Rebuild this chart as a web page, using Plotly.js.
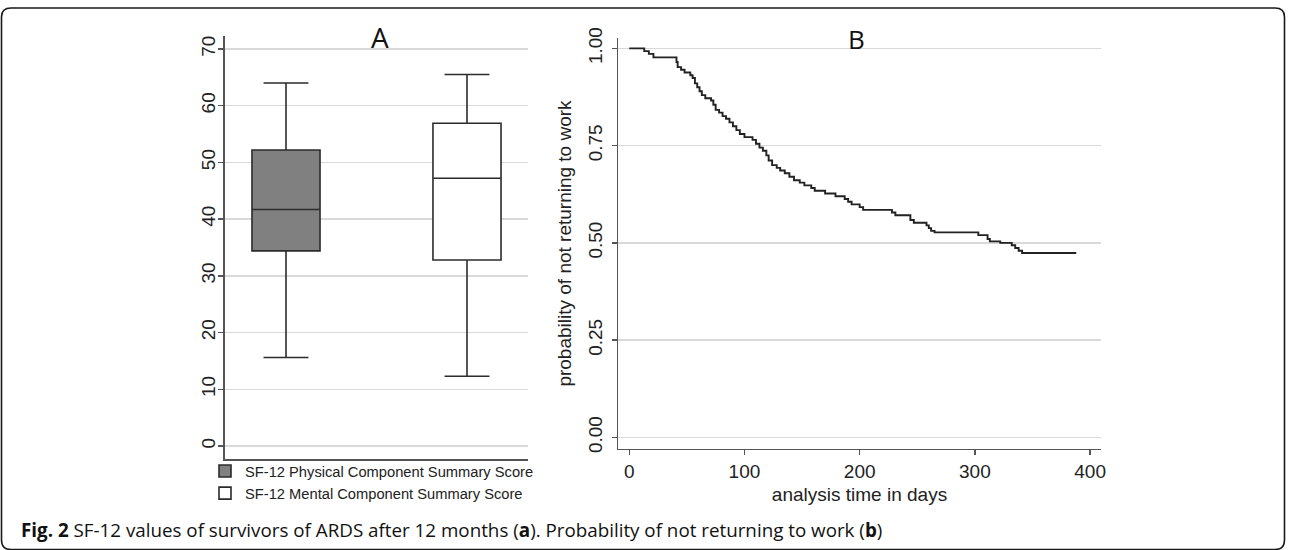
<!DOCTYPE html>
<html>
<head>
<meta charset="utf-8">
<script src="https://cdn.plot.ly/plotly-3.0.1.min.js"></script>
<style>html,body{margin:0;padding:0;background:#fff;}#chart{width:1292px;height:550px;}</style>
</head>
<body>
<div id="chart"></div>
<script>
// ---- Panel A: SF-12 box plot summary statistics ----
const groupNames = ["SF-12 Physical Component Summary Score", "SF-12 Mental Component Summary Score"];
const groupPos = [0, 1];
const lowerWhisker = [15.6, 12.3];
const q1Values = [34.4, 32.8];
const medianValues = [41.7, 47.2];
const q3Values = [52.2, 56.9];
const upperWhisker = [64.0, 65.5];
const yTicksA = [0, 10, 20, 30, 40, 50, 60, 70];

// ---- Panel B: Kaplan-Meier curve (probability of not returning to work) ----
const kmDays = [0, 13, 17, 21, 41, 42, 45, 48, 53, 55, 57, 59, 61, 63, 66, 71, 73, 75, 78, 81, 84, 87, 90, 93, 96, 100,
  107, 110, 113, 116, 119, 121, 124, 128, 131, 135, 139, 143, 148, 152, 158, 161, 170, 179, 187, 190, 193, 200, 203,
  228, 231, 244, 247, 258, 260, 262, 265, 303, 311, 313, 322, 332, 335, 338, 341, 388];
const kmSurv = [1.000, 0.993, 0.986, 0.977, 0.965, 0.952, 0.945, 0.938, 0.931, 0.924, 0.910, 0.900, 0.890, 0.880, 0.872, 0.866, 0.855, 0.842, 0.835, 0.826, 0.819, 0.810, 0.800, 0.790, 0.780, 0.772,
  0.765, 0.755, 0.745, 0.737, 0.725, 0.712, 0.700, 0.693, 0.686, 0.679, 0.670, 0.661, 0.655, 0.648, 0.641, 0.634, 0.627, 0.620, 0.613, 0.606, 0.599, 0.592, 0.585,
  0.578, 0.571, 0.559, 0.552, 0.545, 0.538, 0.531, 0.527, 0.520, 0.510, 0.504, 0.500, 0.494, 0.487, 0.480, 0.474, 0.474];
const xTicksB = [0, 100, 200, 300, 400];
const yTicksB = [0, 0.25, 0.5, 0.75, 1];

const W = 1292, H = 550;
const px = x => x / W;
const py = y => 1 - y / H;

const FONT = "Liberation Sans, Arial, sans-serif";
const boxFills = ["#808080", "#ffffff"];

const traces = [];
for (let i = 0; i < groupNames.length; i++) {
  traces.push({
    type: "box",
    name: groupNames[i],
    x: [groupPos[i]],
    q1: [q1Values[i]],
    median: [medianValues[i]],
    q3: [q3Values[i]],
    lowerfence: [lowerWhisker[i]],
    upperfence: [upperWhisker[i]],
    boxpoints: false,
    width: 0.376,
    whiskerwidth: 0.66,
    fillcolor: boxFills[i],
    line: {color: "#2b2b2b", width: 1.6},
    xaxis: "x", yaxis: "y",
    hoverinfo: "y",
    showlegend: true
  });
}
traces.push({
  type: "scatter",
  mode: "lines",
  x: kmDays,
  y: kmSurv,
  line: {shape: "hv", color: "#222222", width: 1.9},
  xaxis: "x2", yaxis: "y2",
  showlegend: false,
  name: "KM"
});

const axisLine = "#555555";
const gridCol = "#d9d9d9";
const TICKSIZE = 19;

const layout = {
  width: W, height: H,
  margin: {l: 0, r: 0, t: 0, b: 0},
  paper_bgcolor: "#ffffff",
  plot_bgcolor: "#ffffff",
  font: {family: FONT, color: "#222222", size: 17},
  showlegend: true,
  legend: {
    x: px(205), y: py(455), xanchor: "left", yanchor: "top",
    font: {family: FONT, size: 14.7, color: "#222222"},
    bgcolor: "rgba(0,0,0,0)", borderwidth: 0,
    tracegroupgap: 0, itemwidth: 30
  },
  xaxis: {
    domain: [px(225), px(528)],
    range: [-0.337, 1.337],
    showticklabels: false, ticks: "", showgrid: false, zeroline: false,
    showline: true, linecolor: axisLine, linewidth: 1.6,
    anchor: "y"
  },
  yaxis: {
    domain: [py(459.3), py(36)],
    range: [-2.35, 72.29],
    tickvals: yTicksA,
    tickangle: -90,
    ticks: "outside", ticklen: 5, tickwidth: 1.4, tickcolor: axisLine,
    ticklabelstandoff: -4,
    tickfont: {family: FONT, size: TICKSIZE, color: "#222222"},
    showgrid: true, gridcolor: gridCol, gridwidth: 1.4,
    zeroline: false,
    showline: true, linecolor: axisLine, linewidth: 1.6,
    anchor: "x"
  },
  xaxis2: {
    domain: [px(618.3), px(1100.7)],
    range: [-9.5, 409.2],
    tickvals: xTicksB,
    ticks: "outside", ticklen: 5, tickwidth: 1.4, tickcolor: axisLine,
    tickfont: {family: FONT, size: TICKSIZE, color: "#222222"},
    showgrid: false, zeroline: false,
    showline: true, linecolor: axisLine, linewidth: 1.6,
    title: {text: "analysis time in days", font: {family: FONT, size: 19, color: "#222222"}, standoff: 6},
    anchor: "y2"
  },
  yaxis2: {
    domain: [py(448.7), py(38.3)],
    range: [-0.029, 1.026],
    tickvals: yTicksB,
    tickformat: ".2f",
    tickangle: -90,
    ticks: "outside", ticklen: 5, tickwidth: 1.4, tickcolor: axisLine,
    ticklabelstandoff: 2,
    tickfont: {family: FONT, size: TICKSIZE, color: "#222222"},
    showgrid: true, gridcolor: gridCol, gridwidth: 1.4,
    zeroline: false,
    showline: true, linecolor: axisLine, linewidth: 1.6,
    title: {text: "probability of not returning to work", font: {family: FONT, size: 19, color: "#222222"}, standoff: 8},
    anchor: "x2"
  },
  annotations: [
    {text: "A", xref: "paper", yref: "paper", x: px(380), y: py(37), xanchor: "center", yanchor: "middle",
     showarrow: false, font: {family: "Open Sans, " + FONT, size: 28, color: "#111111"}},
    {text: "B", xref: "paper", yref: "paper", x: px(856), y: py(39), xanchor: "center", yanchor: "middle",
     showarrow: false, font: {family: "Open Sans, " + FONT, size: 26, color: "#111111"}},
    {text: "<b>Fig. 2</b> SF-12 values of survivors of ARDS after 12 months (<b>a</b>). Probability of not returning to work (<b>b</b>)",
     xref: "paper", yref: "paper", x: px(19), y: py(530), xanchor: "left", yanchor: "middle",
     showarrow: false, font: {family: "Open Sans, sans-serif", size: 18.8, color: "#111111"}}
  ],
  shapes: [
    {type: "path", xref: "paper", yref: "paper",
     path: `M ${px(11)},${py(8)} L ${px(1275)},${py(8)} Q ${px(1284.5)},${py(8)} ${px(1284.5)},${py(17)} ` +
           `L ${px(1284.5)},${py(540)} Q ${px(1284.5)},${py(549.5)} ${px(1275)},${py(549.5)} ` +
           `L ${px(11)},${py(549.5)} Q ${px(1.5)},${py(549.5)} ${px(1.5)},${py(540)} ` +
           `L ${px(1.5)},${py(17)} Q ${px(1.5)},${py(8)} ${px(11)},${py(8)} Z`,
     line: {color: "#1a1a1a", width: 1.6}, fillcolor: "rgba(0,0,0,0)"}
  ]
};

Plotly.newPlot("chart", traces, layout, {displayModeBar: false, staticPlot: true});
</script>
</body>
</html>
